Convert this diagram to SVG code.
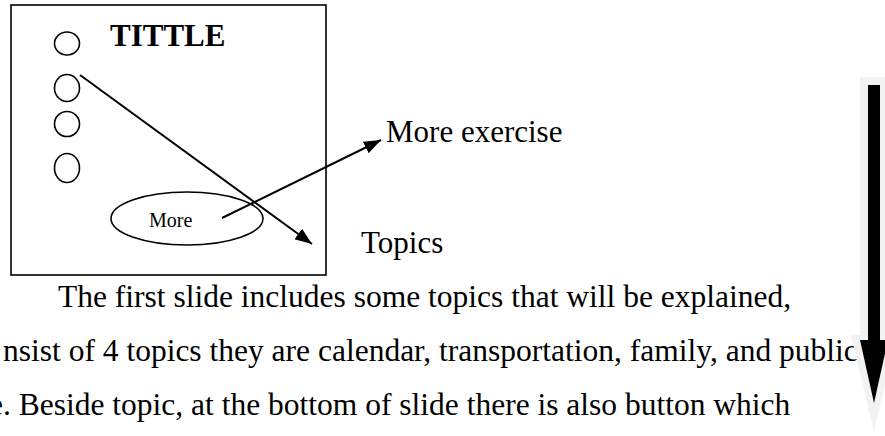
<svg xmlns="http://www.w3.org/2000/svg" width="885" height="436" viewBox="0 0 885 436">
<style>
.t{font-family:"Liberation Serif","Times New Roman",serif;fill:#000}
.ln{stroke:#000;stroke-width:2;fill:none}
.sh{fill:none;stroke:#000;stroke-width:1.6}
</style>
<defs>
<marker id="ah" markerUnits="userSpaceOnUse" markerWidth="18" markerHeight="14" refX="17" refY="6.5" orient="auto">
<path d="M0,0 L17,6.5 L0,13 z" fill="#000"/>
</marker>
</defs>
<rect width="885" height="436" fill="#fff"/>
<g id="slide">
<rect class="sh" x="11" y="5" width="315" height="270"/>
</g>
<g id="title"><text class="t" x="110" y="46" font-size="31" font-weight="bold">TITTLE</text></g>
<g id="bullet1"><ellipse class="sh" cx="67" cy="43.5" rx="12.5" ry="11.5"/></g>
<g id="bullet2"><ellipse class="sh" cx="67" cy="88" rx="12.5" ry="13.5"/></g>
<g id="bullet3"><ellipse class="sh" cx="67" cy="124" rx="12.5" ry="12.5"/></g>
<g id="bullet4"><ellipse class="sh" cx="67" cy="168" rx="12.5" ry="14.5"/></g>
<g id="more-button">
<ellipse class="sh" cx="187" cy="218.5" rx="76" ry="26.5"/>
<text class="t" x="149" y="227" font-size="20">More</text>
</g>
<g id="label-more-exercise"><text class="t" x="386" y="142" font-size="31">More exercise</text></g>
<g id="label-topics"><text class="t" x="361" y="253" font-size="31">Topics</text></g>
<g id="connectors">
<line class="ln" x1="80" y1="75" x2="312" y2="244" marker-end="url(#ah)"/>
<line class="ln" x1="222" y1="218" x2="381" y2="140" marker-end="url(#ah)"/>
</g>
<g id="body-text">
<text class="t" x="58" y="307" font-size="31.5">The first slide includes some topics that will be explained,</text>
<text class="t" x="3" y="361" font-size="31.5">nsist of 4 topics they are calendar, transportation, family, and public</text>
<text class="t" x="-11" y="415" font-size="31.5">e. Beside topic, at the bottom of slide there is also button which</text>
</g>
<g id="scroll-arrow">
<polygon points="860,77 888,77 888,335 897,335 874,432 851,335 860,335" fill="#f2f2f2"/>
<polygon points="868,85 880,85 880,340 888,340 874,403 860,340 868,340" fill="#000"/>
</g>
</svg>
